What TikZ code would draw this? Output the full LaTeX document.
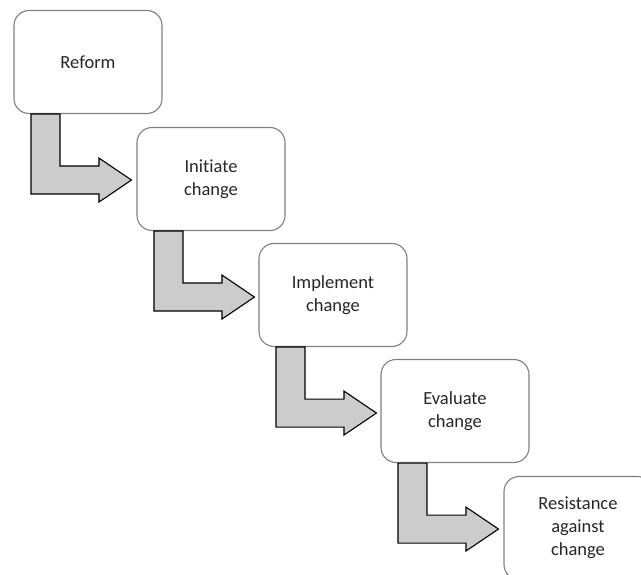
\documentclass[tikz,border=0pt]{standalone}
\usepackage{fontspec}
\setmainfont[Ligatures={NoCommon,NoRequired,NoContextual}]{Carlito}
\usetikzlibrary{calc}
\begin{document}
\begin{tikzpicture}[x=1pt,y=-1pt,
  stagebox/.style={draw=black!50, fill=white, line width=1.1pt, rounded corners=15pt,
    minimum width=148pt, minimum height=103pt, align=center, inner sep=2pt,
    font=\fontsize{18.5}{23}\selectfont, text=black!85},
  bentarrow/.style={draw=black, fill=black!20, line width=1.1pt, line join=miter}]
\useasboundingbox (0,0) rectangle (641,575);
\clip (0,0) rectangle (641,575);
\node[stagebox] (b1) at (88,62) {Reform};
\node[stagebox] (b2) at (211,179) {Initiate\\change};
\node[stagebox] (b3) at (333,295) {Implement\\change};
\node[stagebox] (b4) at (455,411) {Evaluate\\change};
\node[stagebox] (b5) at (578,528) {Resistance\\against\\change};
\foreach \b in {b1,b2,b3,b4}{
  \begin{scope}[shift={(\b.south west)}]
    \draw[bentarrow] (17.5,0) -- (46.5,0) -- (46.5,52) -- (85.5,52) -- (85.5,44)
      -- (118,66) -- (85.5,88) -- (85.5,80) -- (17.5,80) -- cycle;
  \end{scope}
}
\end{tikzpicture}
\end{document}
